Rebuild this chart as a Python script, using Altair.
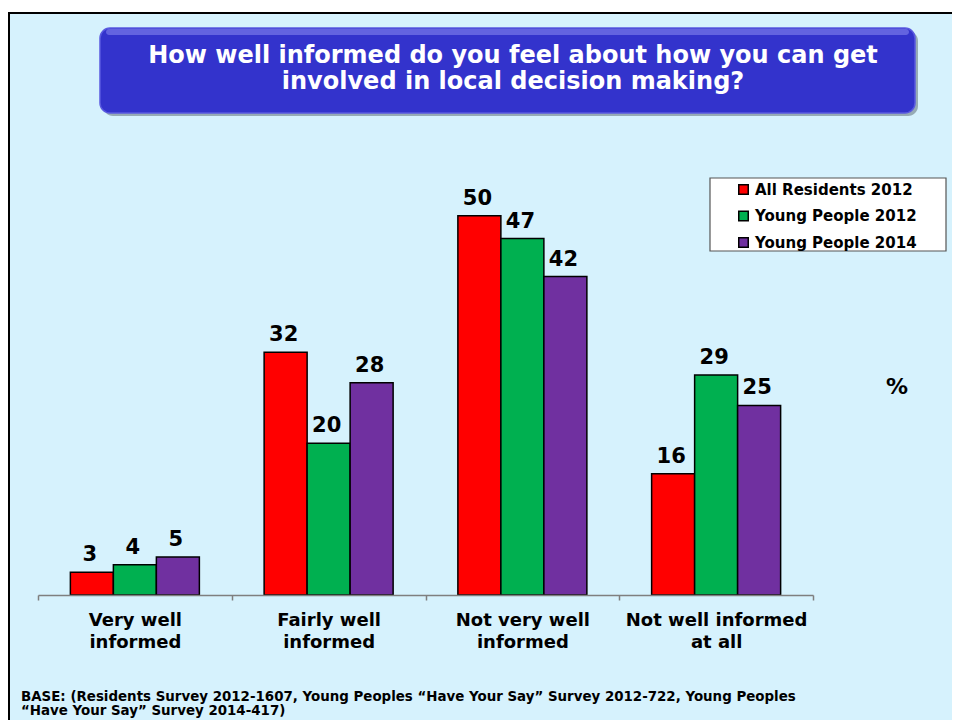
import altair as alt
import pandas as pd

# ---------------- data ----------------
categories = ["Very well|informed", "Fairly well|informed",
              "Not very well|informed", "Not well informed|at all"]
series = ["All Residents 2012", "Young People 2012", "Young People 2014"]
all_residents_2012 = [3, 32, 50, 16]
young_people_2012 = [4, 20, 47, 29]
young_people_2014 = [5, 28, 42, 25]
colors = ["#FF0000", "#00B050", "#7030A0"]

title_lines = ["How well informed do you feel about how you can get",
               "involved in local decision making?"]
footnote_line1 = "BASE: (Residents Survey 2012-1607, Young Peoples \u201cHave Your Say\u201d Survey 2012-722, Young Peoples"
footnote_line2 = "\u201cHave Your Say\u201d Survey 2014-417)"
unit_label = "%"

rows = []
for s, vals in zip(series, [all_residents_2012, young_people_2012, young_people_2014]):
    for c, v in zip(categories, vals):
        rows.append({"category": c, "series": s, "value": v})
df = pd.DataFrame(rows)
one = pd.DataFrame({"k": [0]})

W, H = 775, 455
TOTAL_W, TOTAL_H = 944, 712
PAD_L, PAD_T = 30, 132
FONT = "DejaVu Sans"

# ---------------- decorations ----------------
background = alt.Chart(one).mark_rect(fill="#D6F2FD", stroke="black", strokeWidth=2).encode(
    x=alt.value(-29), x2=alt.value(W + 300), y=alt.value(-127), y2=alt.value(H + 300))

title_shadow = alt.Chart(one).mark_rect(fill="#6b7b85", opacity=0.6, cornerRadius=10).encode(
    x=alt.value(65), x2=alt.value(880), y=alt.value(-109), y2=alt.value(-24))
title_box = alt.Chart(one).mark_rect(fill="#3333CC", stroke="#5a5ae0", strokeWidth=1.5, cornerRadius=10).encode(
    x=alt.value(62), x2=alt.value(877), y=alt.value(-112), y2=alt.value(-27))
title_gloss = alt.Chart(one).mark_rect(fill="#8a8af0", opacity=0.55, cornerRadius=6).encode(
    x=alt.value(68), x2=alt.value(871), y=alt.value(-111), y2=alt.value(-105))
title_text = alt.Chart(one).mark_text(
    font=FONT, fontSize=24, fontWeight="bold", color="white", align="center",
    baseline="alphabetic", lineBreak="\n", lineHeight=26
).encode(x=alt.value(475), y=alt.value(-77), text=alt.value("\n".join(title_lines)))

legend_box = alt.Chart(one).mark_rect(fill="white", stroke="#555555", strokeWidth=1.2).encode(
    x=alt.value(672), x2=alt.value(908), y=alt.value(38), y2=alt.value(111))

pct_text = alt.Chart(one).mark_text(
    font=FONT, fontSize=22, fontWeight="bold", color="black", align="center", baseline="middle"
).encode(x=alt.value(859), y=alt.value(247), text=alt.value(unit_label))

foot1 = alt.Chart(one).mark_text(
    font=FONT, fontSize=13.4, fontWeight="bold", color="black", align="left", baseline="middle"
).encode(x=alt.value(-17), y=alt.value(557), text=alt.value(footnote_line1))
foot2 = alt.Chart(one).mark_text(
    font=FONT, fontSize=13.4, fontWeight="bold", color="black", align="left", baseline="middle"
).encode(x=alt.value(-17), y=alt.value(571), text=alt.value(footnote_line2))

# ---------------- bars ----------------
x_enc = alt.X("category:N", sort=categories,
              scale=alt.Scale(paddingInner=0, paddingOuter=0),
              axis=alt.Axis(title=None, labelExpr="split(datum.label, '|')", labelAngle=0,
                            labelFontSize=18, labelFontWeight="bold", labelFont=FONT,
                            labelColor="black", labelLineHeight=22, labelPadding=11,
                            labelLimit=400, domainColor="#7f7f7f", domainWidth=1.5,
                            tickColor="#7f7f7f", tickSize=5, tickWidth=1.5, tickBand="extent",
                            zindex=1))
xoff_enc = alt.XOffset("series:N", sort=series,
                       scale=alt.Scale(paddingInner=0, paddingOuter=0.753))
y_enc = alt.Y("value:Q", scale=alt.Scale(domain=[0, 60]), axis=None)

bars = alt.Chart(df).mark_bar(stroke="black", strokeWidth=1.5, opacity=1).encode(
    x=x_enc, xOffset=xoff_enc, y=y_enc,
    color=alt.Color("series:N", sort=series,
                    scale=alt.Scale(domain=series, range=colors),
                    legend=alt.Legend(title=None, orient="none", legendX=698, legendY=42,
                                      symbolType="square", symbolSize=90,
                                      symbolStrokeColor="black", symbolStrokeWidth=1.5,
                                      labelFont=FONT, labelFontSize=15, labelFontWeight="bold",
                                      labelColor="black", labelOffset=4, rowPadding=9.5,
                                      labelLimit=400, padding=0)))

labels = alt.Chart(df).mark_text(
    font=FONT, fontSize=21, fontWeight="bold", color="black", align="center",
    baseline="alphabetic", dy=-11, dx=-2
).encode(x=x_enc, xOffset=xoff_enc, y=y_enc, text=alt.Text("value:Q"))

chart = alt.layer(
    background, title_shadow, title_box, title_gloss, title_text,
    legend_box, bars, labels, pct_text, foot1, foot2
).properties(
    width=W, height=H,
    padding={"left": PAD_L, "top": PAD_T, "right": TOTAL_W - PAD_L - W,
             "bottom": TOTAL_H - PAD_T - H},
    autosize=alt.AutoSizeParams(type="none"),
    background="white"
).configure_view(stroke=None)

chart.save("out.html", embed_options={"renderer": "svg", "actions": False})
